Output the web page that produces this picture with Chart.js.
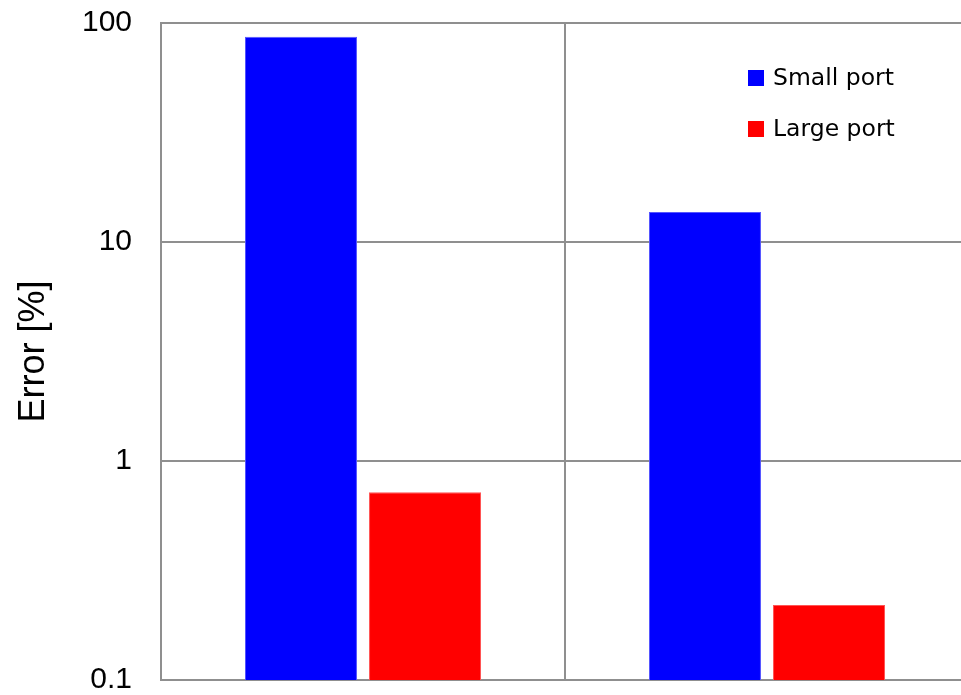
<!DOCTYPE html>
<html>
<head>
<meta charset="utf-8">
<title>Error by port size</title>
<script src="https://cdn.jsdelivr.net/npm/chart.js@4/dist/chart.umd.min.js"></script>
<style>
  html, body { margin: 0; padding: 0; background: #ffffff; overflow: hidden; }
  #wrap { position: relative; width: 969px; height: 695px; }
</style>
</head>
<body>
<div id="wrap"><canvas id="chart"></canvas></div>
<script>
// Two test conditions, each measured with a small and a large port.
const categories = ['Condition 1', 'Condition 2'];
const smallPort = [86.5, 13.7];
const largePort = [0.72, 0.22];
const seriesNames = ['Small port', 'Large port'];
const tickValues = [0.1, 1, 10, 100];
const tickLabels = ['0.1', '1', '10', '100'];

const GRID = '#8f8f8f';

// Legend drawn inside the plot, stacked vertically at the upper right.
const insideLegend = {
  id: 'insideLegend',
  afterDraw(chart) {
    const ctx = chart.ctx;
    const x = chart.chartArea.left + 587;
    const rows = [78, 129];
    ctx.save();
    ctx.font = '23.5px "DejaVu Sans", Verdana, sans-serif';
    ctx.textBaseline = 'middle';
    ctx.textAlign = 'left';
    chart.data.datasets.forEach((ds, i) => {
      const y = rows[i];
      ctx.fillStyle = ds.backgroundColor;
      ctx.fillRect(x, y - 8, 16, 16);
      ctx.fillStyle = '#000000';
      ctx.fillText(ds.label, x + 25, y + 1);
    });
    ctx.restore();
  }
};

new Chart(document.getElementById('chart'), {
  type: 'bar',
  data: {
    labels: categories,
    datasets: [
      {
        label: seriesNames[0],
        data: smallPort,
        backgroundColor: '#0000ff',
        borderColor: '#5555ff',
        borderWidth: 1
      },
      {
        label: seriesNames[1],
        data: largePort,
        backgroundColor: '#ff0000',
        borderColor: '#ff5555',
        borderWidth: 1
      }
    ]
  },
  options: {
    responsive: true,
    maintainAspectRatio: false,
    animation: false,
    layout: { padding: { top: 23, bottom: 15, left: 0, right: 0 } },
    datasets: {
      bar: { categoryPercentage: 0.614, barPercentage: 0.903 }
    },
    plugins: {
      legend: { display: false },
      tooltip: { enabled: false }
    },
    scales: {
      x: {
        grid: { offset: true, drawTicks: false, color: GRID, lineWidth: 2 },
        border: { display: true, color: GRID, width: 2 },
        ticks: { display: false }
      },
      y: {
        type: 'logarithmic',
        min: 0.1,
        max: 100,
        afterBuildTicks(scale) {
          scale.ticks = tickValues.map(v => ({ value: v }));
        },
        afterFit(scale) {
          scale.width = 161;
        },
        // invisible tick marks keep the labels clear of the axis line
        grid: { drawTicks: true, tickLength: 29, tickColor: 'rgba(0,0,0,0)', color: GRID, lineWidth: 2 },
        border: { display: true, color: GRID, width: 2 },
        ticks: {
          padding: 0,
          color: '#000000',
          font: { family: '"Liberation Sans", Arial, sans-serif', size: 30, lineHeight: 1 },
          callback(value) {
            const i = tickValues.indexOf(value);
            return i >= 0 ? tickLabels[i] : '';
          }
        },
        title: {
          display: true,
          text: 'Error [%]',
          color: '#000000',
          padding: { top: 12, bottom: 0 },
          font: { family: '"Liberation Sans", Arial, sans-serif', size: 36 }
        }
      }
    }
  },
  plugins: [insideLegend]
});
</script>
</body>
</html>
